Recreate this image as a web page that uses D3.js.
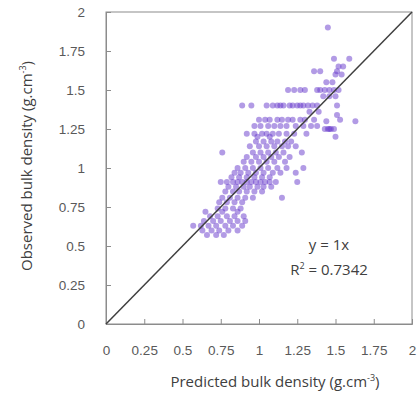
<!DOCTYPE html>
<html>
<head>
<meta charset="utf-8">
<script src="https://cdn.jsdelivr.net/npm/d3@7"></script>
<style>
  html, body { margin: 0; padding: 0; background: #fff; }
  svg { display: block; font-family: "Open Sans", "Noto Sans", sans-serif; }
</style>
</head>
<body>
<svg id="chart" width="419" height="394"></svg>
<script>
// Observed bulk density rows and the predicted values measured at each level
const observedLevels = [
  1.90, 1.70, 1.65, 1.62, 1.60, 1.55, 1.50, 1.46, 1.40, 1.36, 1.34, 1.31, 1.30,
  1.27, 1.25, 1.22, 1.20, 1.17, 1.14, 1.10, 1.07, 1.04, 1.00, 0.97, 0.94, 0.91,
  0.88, 0.85, 0.81, 0.78, 0.74, 0.72, 0.69, 0.66, 0.63, 0.60, 0.57
];
const predictedByLevel = [
  [1.45],
  [1.49, 1.59],
  [1.52, 1.55],
  [1.36, 1.40, 1.51],
  [1.50, 1.54],
  [1.44, 1.48],
  [1.19, 1.23, 1.27, 1.30, 1.38, 1.40, 1.43, 1.46, 1.49, 1.52],
  [1.42, 1.46, 1.50],
  [0.89, 0.95, 1.05, 1.09, 1.12, 1.14, 1.16, 1.20, 1.22, 1.25, 1.27, 1.29, 1.32, 1.35, 1.38, 1.51],
  [1.33, 1.39],
  [1.51],
  [1.00, 1.04, 1.07, 1.12, 1.15, 1.19, 1.22, 1.27, 1.30, 1.36, 1.53],
  [1.44, 1.63],
  [0.97, 1.01, 1.06, 1.10, 1.14, 1.18, 1.24, 1.29, 1.34, 1.38],
  [1.43, 1.45, 1.46, 1.47, 1.49],
  [0.92, 0.97, 1.02, 1.05, 1.09, 1.13, 1.18, 1.23, 1.31],
  [0.99, 1.07, 1.50],
  [0.98, 1.03, 1.08, 1.12, 1.17, 1.21],
  [0.94, 1.00, 1.05, 1.10, 1.15, 1.19, 1.24],
  [0.76, 0.96, 1.01, 1.06, 1.11, 1.16, 1.28],
  [0.92, 0.98, 1.03, 1.08, 1.13, 1.20],
  [0.90, 0.95, 1.00, 1.05, 1.10, 1.17],
  [0.86, 0.91, 0.96, 1.01, 1.06, 1.12, 1.18, 1.29],
  [0.84, 0.88, 0.93, 0.98, 1.03, 1.09, 1.14, 1.24],
  [0.82, 0.87, 0.92, 0.97, 1.02, 1.07],
  [0.75, 0.79, 0.83, 0.86, 0.89, 0.92, 0.95, 0.98, 1.01, 1.04, 1.07, 1.11, 1.25],
  [0.80, 0.85, 0.90, 0.94, 0.99, 1.03, 1.08],
  [0.78, 0.83, 0.87, 0.92, 0.97, 1.02],
  [0.76, 0.81, 0.86, 0.91, 0.96, 1.15],
  [0.74, 0.79, 0.84, 0.89],
  [0.73, 0.78, 0.83, 0.88],
  [0.65, 0.76, 0.86],
  [0.68, 0.73, 0.79, 0.84, 0.90],
  [0.64, 0.70, 0.75, 0.81, 0.86, 0.91],
  [0.57, 0.62, 0.67, 0.72, 0.78, 0.83, 0.89],
  [0.63, 0.69, 0.74, 0.80, 0.86],
  [0.66, 0.72, 0.77]
];
const tickValues = [0, 0.25, 0.5, 0.75, 1, 1.25, 1.5, 1.75, 2];
const fitLine = [[0, 0], [2, 2]];
const equationText = "y = 1x";
const r2Value = "0.7342";

const points = [];
observedLevels.forEach((obs, i) => {
  predictedByLevel[i].forEach(pred => points.push({ x: pred, y: obs }));
});

const svg = d3.select("#chart");
const plot = { left: 106, right: 412, top: 12, bottom: 324 };

const x = d3.scaleLinear().domain([0, 2]).range([plot.left, plot.right]);
const y = d3.scaleLinear().domain([0, 2]).range([plot.bottom, plot.top]);

const tickFmt = d => d3.format("")(d);

// Frame around the plotting area
svg.append("rect")
  .attr("x", plot.left).attr("y", plot.top)
  .attr("width", plot.right - plot.left).attr("height", plot.bottom - plot.top)
  .attr("fill", "none").attr("stroke", "#8c8c8c").attr("stroke-width", 1);

// Bottom axis with inward ticks
const xAxis = svg.append("g")
  .attr("transform", `translate(0,${plot.bottom})`)
  .call(d3.axisBottom(x).tickValues(tickValues).tickSize(-5).tickPadding(21).tickFormat(tickFmt));
// Left axis with inward ticks
const yAxis = svg.append("g")
  .attr("transform", `translate(${plot.left},0)`)
  .call(d3.axisLeft(y).tickValues(tickValues).tickSize(-5).tickPadding(21).tickFormat(tickFmt));

[xAxis, yAxis].forEach(g => {
  g.select(".domain").attr("stroke", "#8c8c8c");
  g.selectAll(".tick line").attr("stroke", "#8c8c8c");
  g.selectAll(".tick text")
    .attr("fill", "#595959")
    .style("font-size", "13.5px");
});

// Scatter of samples
svg.append("g")
  .selectAll("circle")
  .data(points)
  .join("circle")
  .attr("cx", d => x(d.x))
  .attr("cy", d => y(d.y))
  .attr("r", 3)
  .attr("fill", "#6538cc")
  .attr("fill-opacity", 0.5);

// 1:1 line
svg.append("path")
  .datum(fitLine)
  .attr("d", d3.line().x(d => x(d[0])).y(d => y(d[1])))
  .attr("stroke", "#3f3f3f")
  .attr("stroke-width", 1.5)
  .attr("fill", "none");

// Regression annotation
const ann = svg.append("g").attr("fill", "#404040").style("font-size", "15px");
ann.append("text")
  .attr("x", 329).attr("y", 250)
  .attr("text-anchor", "middle")
  .text(equationText);
const r2 = ann.append("text")
  .attr("x", 329).attr("y", 275)
  .attr("text-anchor", "middle");
r2.append("tspan").text("R");
r2.append("tspan").attr("dy", -6).style("font-size", "9px").text("2");
r2.append("tspan").attr("dy", 6).text(" = " + r2Value);

// Axis titles
svg.append("text")
  .attr("x", 275).attr("y", 387)
  .attr("text-anchor", "middle")
  .attr("fill", "#404040")
  .style("font-size", "15px")
  .call(t => {
    t.append("tspan").text("Predicted bulk density (g.cm");
    t.append("tspan").attr("dy", -6).style("font-size", "9px").text("-3");
    t.append("tspan").attr("dy", 6).text(")");
  });

svg.append("text")
  .attr("transform", "translate(32,166) rotate(-90)")
  .attr("text-anchor", "middle")
  .attr("fill", "#404040")
  .style("font-size", "15px")
  .call(t => {
    t.append("tspan").text("Observed bulk density (g.cm");
    t.append("tspan").attr("dy", -6).style("font-size", "9px").text("-3");
    t.append("tspan").attr("dy", 6).text(")");
  });
</script>
</body>
</html>
